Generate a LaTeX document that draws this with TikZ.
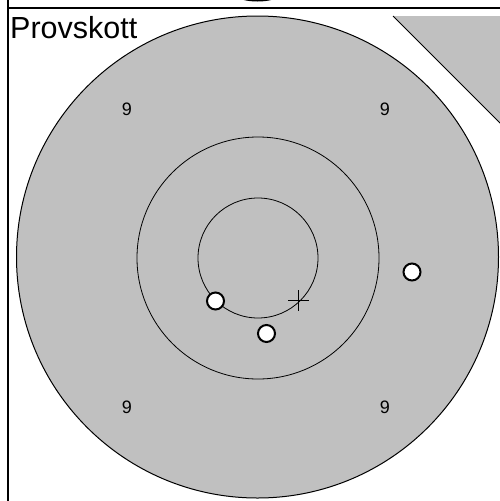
\documentclass[tikz,border=0pt]{standalone}
\usepackage{fontspec}
\setmainfont{Liberation Sans}
\definecolor{target}{RGB}{192,192,192}
\begin{document}
\begin{tikzpicture}[x=1pt,y=-1pt,hole/.style={draw,circle,line width=2pt,fill=white,minimum size=17pt,inner sep=0},ring/.style={draw,line width=0.8pt},score/.style={font=\fontsize{18}{20}\selectfont,inner sep=0}]
\useasboundingbox (0,0) rectangle (499,501);
\fill[black] (257.5,-6) ellipse [x radius=23pt,y radius=7.5pt];
\draw[line width=1.2pt] (8,0)--(8,502) (8,8)--(500,8);
\filldraw[fill=target,line width=1pt] (257.5,257) circle[radius=241pt];
\fill[target] (393,16)--(510,16)--(510,133)--cycle; \draw[line width=0.8pt] (393,16)--(510,133);
\draw[ring] (258,258) circle[radius=121pt] (258,258) circle[radius=60pt];
\node[anchor=base west,inner sep=0,font=\fontsize{30.5}{34}\selectfont] (title) at (10,38.5) {Provskott};
\node[score] (ntl) at (127,109) {9}; \node[score] (ntr) at (385,109) {9};
\node[score] (nbl) at (127,407) {9}; \node[score] (nbr) at (385,407) {9};
\coordinate (aim) at (298.5,300.5);
\draw[line width=0.8pt] (aim) ++(-10.5,0) -- ++(21,0) (aim) ++(0,-10.5) -- ++(0,21);
\node[hole] (s1) at (215.5,301) {}; \node[hole] (s2) at (266.5,333.5) {}; \node[hole] (s3) at (412,272) {};
\end{tikzpicture}
\end{document}
